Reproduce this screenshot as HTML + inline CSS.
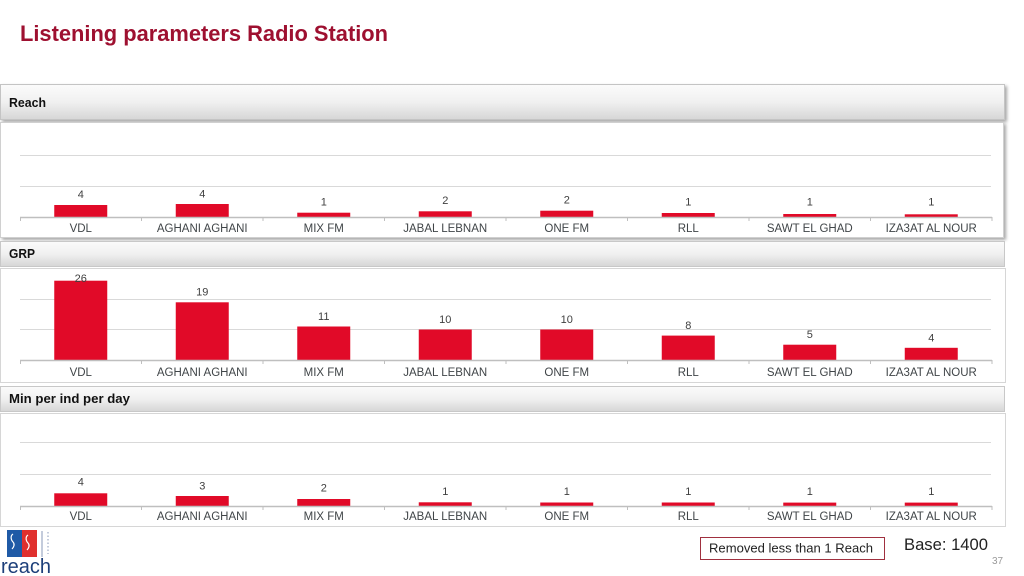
<!DOCTYPE html>
<html><head><meta charset="utf-8"><style>
html,body{margin:0;padding:0;background:#fff;}
svg{display:block;}
</style></head><body>
<svg width="1024" height="576" viewBox="0 0 1024 576" xmlns="http://www.w3.org/2000/svg" font-family="Liberation Sans, sans-serif">
<defs>
<linearGradient id="hg" x1="0" y1="0" x2="0" y2="1">
<stop offset="0" stop-color="#fbfbfb"/><stop offset="0.5" stop-color="#f0f0f0"/><stop offset="1" stop-color="#d6d6d6"/>
</linearGradient>
<filter id="sh" x="-2%" y="-10%" width="104%" height="130%">
<feDropShadow dx="2" dy="2" stdDeviation="1.5" flood-color="#000" flood-opacity="0.35"/>
</filter>
</defs>
<rect width="1024" height="576" fill="#fff"/>
<text x="20" y="41" font-size="22" font-weight="bold" fill="#9e1030" textLength="368" lengthAdjust="spacingAndGlyphs">Listening parameters Radio Station</text>

<!-- Reach -->
<rect x="0.5" y="84.5" width="1004" height="35" fill="url(#hg)" stroke="#c4c4c4" filter="url(#sh)"/>
<text x="9" y="107" font-size="12.5" font-weight="bold" fill="#111" textLength="37" lengthAdjust="spacingAndGlyphs">Reach</text>
<rect x="0.5" y="122.5" width="1003" height="115" fill="#fff" stroke="#d0d0d0" filter="url(#sh)"/>
<g stroke="#d9d9d9" stroke-width="1"><line x1="20" y1="155.5" x2="991" y2="155.5"/><line x1="20" y1="186.5" x2="991" y2="186.5"/></g>
<g fill="#e10a28">
<rect x="54.25" y="205" width="53" height="12"/>
<rect x="175.75" y="204" width="53" height="13"/>
<rect x="297.25" y="212.7" width="53" height="4.3"/>
<rect x="418.75" y="211.3" width="53" height="5.7"/>
<rect x="540.25" y="210.7" width="53" height="6.3"/>
<rect x="661.75" y="213" width="53" height="4"/>
<rect x="783.25" y="214" width="53" height="3"/>
<rect x="904.75" y="214.3" width="53" height="2.7"/>
</g>
<g stroke="#bfbfbf"><line x1="20" y1="217.5" x2="992" y2="217.5" stroke-width="1.5"/>
<path d="M20.5 217v4M141.5 217v4M263 217v4M384.5 217v4M506 217v4M627.5 217v4M749 217v4M870.5 217v4M992 217v4"/></g>
<g font-size="11" fill="#404040" text-anchor="middle">
<text x="80.75" y="198">4</text><text x="202.25" y="197.3">4</text><text x="323.75" y="205.7">1</text><text x="445.25" y="204">2</text>
<text x="566.75" y="203.3">2</text><text x="688.25" y="205.7">1</text><text x="809.75" y="205.7">1</text><text x="931.25" y="205.7">1</text>
</g>
<g font-size="11.5" fill="#404548" text-anchor="middle">
<text x="80.75" y="232">VDL</text><text x="202.25" y="232">AGHANI AGHANI</text><text x="323.75" y="232">MIX FM</text><text x="445.25" y="232">JABAL LEBNAN</text>
<text x="566.75" y="232">ONE FM</text><text x="688.25" y="232">RLL</text><text x="809.75" y="232">SAWT EL GHAD</text><text x="931.25" y="232">IZA3AT AL NOUR</text>
</g>

<!-- GRP -->
<rect x="0.5" y="241.5" width="1004" height="25" fill="url(#hg)" stroke="#c8c8c8"/>
<text x="9" y="258" font-size="12.5" font-weight="bold" fill="#111" textLength="26" lengthAdjust="spacingAndGlyphs">GRP</text>
<rect x="0.5" y="268.5" width="1005" height="114" fill="#fff" stroke="#d6d6d6"/>
<g stroke="#d9d9d9"><line x1="20" y1="299.5" x2="991" y2="299.5"/><line x1="20" y1="329.5" x2="991" y2="329.5"/></g>
<g fill="#e10a28">
<rect x="54.25" y="280.7" width="53" height="79.3"/>
<rect x="175.75" y="302.3" width="53" height="57.7"/>
<rect x="297.25" y="326.5" width="53" height="33.5"/>
<rect x="418.75" y="329.5" width="53" height="30.5"/>
<rect x="540.25" y="329.5" width="53" height="30.5"/>
<rect x="661.75" y="335.6" width="53" height="24.4"/>
<rect x="783.25" y="344.7" width="53" height="15.3"/>
<rect x="904.75" y="347.8" width="53" height="12.2"/>
</g>
<g stroke="#bfbfbf"><line x1="20" y1="360.5" x2="992" y2="360.5" stroke-width="1.5"/>
<path d="M20.5 360v4M141.5 360v4M263 360v4M384.5 360v4M506 360v4M627.5 360v4M749 360v4M870.5 360v4M992 360v4"/></g>
<g font-size="11" fill="#404040" text-anchor="middle">
<text x="80.75" y="282">26</text><text x="202.25" y="295.7">19</text><text x="323.75" y="320">11</text><text x="445.25" y="323">10</text>
<text x="566.75" y="323">10</text><text x="688.25" y="329">8</text><text x="809.75" y="338">5</text><text x="931.25" y="341.5">4</text>
</g>
<g font-size="11.5" fill="#404548" text-anchor="middle">
<text x="80.75" y="376">VDL</text><text x="202.25" y="376">AGHANI AGHANI</text><text x="323.75" y="376">MIX FM</text><text x="445.25" y="376">JABAL LEBNAN</text>
<text x="566.75" y="376">ONE FM</text><text x="688.25" y="376">RLL</text><text x="809.75" y="376">SAWT EL GHAD</text><text x="931.25" y="376">IZA3AT AL NOUR</text>
</g>

<!-- Min per ind per day -->
<rect x="0.5" y="386.5" width="1004" height="25" fill="url(#hg)" stroke="#c8c8c8"/>
<text x="9" y="403" font-size="12.5" font-weight="bold" fill="#111" textLength="121" lengthAdjust="spacingAndGlyphs">Min per ind per day</text>
<rect x="0.5" y="413.5" width="1005" height="113" fill="#fff" stroke="#d6d6d6"/>
<g stroke="#d9d9d9"><line x1="20" y1="442.5" x2="991" y2="442.5"/><line x1="20" y1="474.5" x2="991" y2="474.5"/></g>
<g fill="#e10a28">
<rect x="54.25" y="493.3" width="53" height="12.7"/>
<rect x="175.75" y="496" width="53" height="10"/>
<rect x="297.25" y="499" width="53" height="7"/>
<rect x="418.75" y="502.3" width="53" height="3.7"/>
<rect x="540.25" y="502.5" width="53" height="3.5"/>
<rect x="661.75" y="502.5" width="53" height="3.5"/>
<rect x="783.25" y="502.6" width="53" height="3.4"/>
<rect x="904.75" y="502.6" width="53" height="3.4"/>
</g>
<g stroke="#bfbfbf"><line x1="20" y1="506.5" x2="992" y2="506.5" stroke-width="1.5"/>
<path d="M20.5 506v4M141.5 506v4M263 506v4M384.5 506v4M506 506v4M627.5 506v4M749 506v4M870.5 506v4M992 506v4"/></g>
<g font-size="11" fill="#404040" text-anchor="middle">
<text x="80.75" y="485.7">4</text><text x="202.25" y="489.3">3</text><text x="323.75" y="491.7">2</text><text x="445.25" y="495">1</text>
<text x="566.75" y="495">1</text><text x="688.25" y="495">1</text><text x="809.75" y="495">1</text><text x="931.25" y="495">1</text>
</g>
<g font-size="11.5" fill="#404548" text-anchor="middle">
<text x="80.75" y="520">VDL</text><text x="202.25" y="520">AGHANI AGHANI</text><text x="323.75" y="520">MIX FM</text><text x="445.25" y="520">JABAL LEBNAN</text>
<text x="566.75" y="520">ONE FM</text><text x="688.25" y="520">RLL</text><text x="809.75" y="520">SAWT EL GHAD</text><text x="931.25" y="520">IZA3AT AL NOUR</text>
</g>

<!-- Logo -->
<rect x="7" y="530" width="15" height="27" fill="#1f5aa6"/>
<rect x="22" y="530" width="15" height="27" fill="#e0302e"/>
<path d="M13 534c-3 2-2 6 0 8s1 5-1 7M28 535c-3 2-2 6 0 8s1 5-1 7" stroke="#fff" stroke-width="1.2" fill="none"/>
<line x1="42" y1="531" x2="42" y2="557" stroke="#8a9ab8" stroke-width="1"/>
<line x1="48" y1="532" x2="48" y2="554" stroke="#8a9ab8" stroke-width="1" stroke-dasharray="1.5 2"/>
<text x="1" y="573" font-size="20" fill="#1d3f7a" textLength="50" lengthAdjust="spacingAndGlyphs">reach</text>

<!-- Footer -->
<rect x="700.5" y="537.5" width="184" height="22" fill="#fff" stroke="#a0303f" stroke-width="1"/>
<text x="709" y="552.5" font-size="12.5" fill="#222" textLength="164" lengthAdjust="spacingAndGlyphs">Removed less than 1 Reach</text>
<text x="904" y="550" font-size="16.5" fill="#222" textLength="84" lengthAdjust="spacingAndGlyphs">Base: 1400</text>
<text x="992" y="564" font-size="10" fill="#9a9a9a">37</text>
</svg>
</body></html>
